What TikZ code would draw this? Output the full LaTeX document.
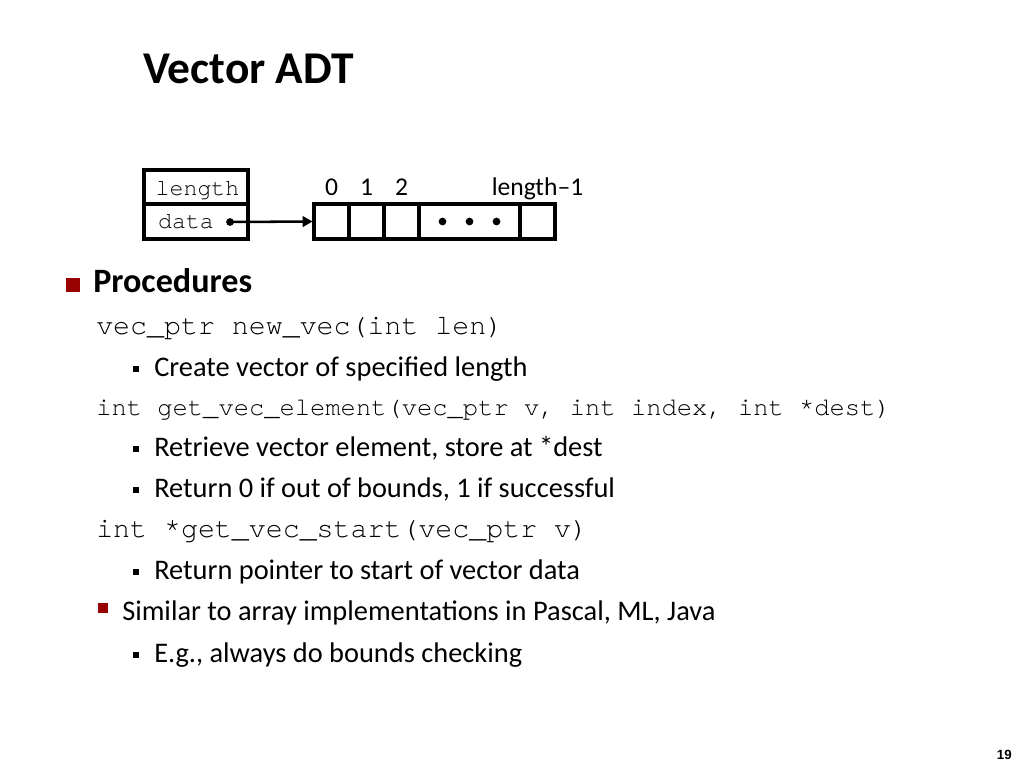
\documentclass[tikz,border=0pt]{standalone}
\usepackage{fontspec}
\setmainfont{Carlito}
\setmonofont{TeX Gyre Cursor}
\newfontfamily\pagenofont{Liberation Sans}
\usetikzlibrary{arrows.meta,positioning}
\definecolor{slidered}{RGB}{153,0,0}
\tikzset{
	body/.style={anchor=base west, inner sep=0pt, font=\fontsize{21.3}{25}\selectfont},
	code/.style={anchor=base west, inner sep=0pt, font=\fontsize{21.2}{25}\selectfont\ttfamily},
	cell/.style={draw, line width=2.3pt, inner sep=0pt, outer sep=0pt, minimum width=26.25pt, minimum height=26.25pt},
	idx/.style={anchor=base, inner sep=0pt, font=\fontsize{19.2}{22}\selectfont},
	field/.style={anchor=base, inner sep=0pt, font=\fontsize{17.4}{20}\selectfont\ttfamily},
	subbullet/.style={fill=black, inner sep=0pt, minimum size=4.6pt},
	redbullet/.style={fill=slidered, inner sep=0pt, minimum size=#1},
	dotmark/.style={circle, fill=black, inner sep=0pt, minimum size=5.8pt}
}

\begin{document}
\begin{tikzpicture}[x=0.75pt, y=-0.75pt]
		%%%%% START %%%%%
		
		\fill[white] (0, 0) rectangle (1024, 768);
		\useasboundingbox (0, 0) rectangle (1024, 768);
		
		\node[anchor=base west, inner sep=0pt, font=\fontsize{34.1}{40}\selectfont\bfseries] (title) at (143, 83) {Vector ADT};
		
		% struct box
		\node[cell, minimum width=78pt, minimum height=25.5pt] (lenbox) at (196, 187) {};
		\node[cell, minimum width=78pt] (databox) at (196, 221.5) {};
		\node[field] (lentext) at (197.5, 195) {length};
		\node[field] (datatext) at (186, 228) {data};
		\node[dotmark] (ptr) at (230, 222) {};
		
		% array
		\node[cell] (c0) at (331.5, 221.5) {};
		\node[cell, right=0pt of c0] (c1) {};
		\node[cell, right=0pt of c1] (c2) {};
		\node[cell, right=0pt of c2, minimum width=75.75pt] (cdots) {};
		\node[cell, right=0pt of cdots] (clast) {};
		\foreach \dx in {-20.25, 0, 20.25}
			\node[dotmark] at ([xshift=\dx pt]cdots.center) {};
		
		\node[idx] (i0) at ([yshift=6.75pt]c0.north) {0};
		\node[idx] (i1) at ([yshift=6.75pt]c1.north) {1};
		\node[idx] (i2) at ([yshift=6.75pt]c2.north) {2};
		\node[idx] (ilast) at ([yshift=6.75pt]clast.north) {length--1};
		
		\draw[line width=1.9pt, shorten >=1.1pt, -{Triangle[length=7.5pt, width=8pt]}] (ptr.center) -- (c0.west);
		
		% bullets
		\node[redbullet=10.5pt] (b0) at (72.5, 285) {};
		\node[body, font=\fontsize{25.6}{30}\selectfont\bfseries] (proc) at (93, 292) {Procedures};
		
		\node[code] (newvec) at (96, 334) {vec\_ptr new\_vec(int len)};
		\node[subbullet] (b1) at (136, 369) {};
		\node[body] (t1) at (154, 376) {Create vector of specified length};
		
		\node[code, font=\fontsize{19.1}{22}\selectfont\ttfamily] (getelem) at (96, 415) {int get\_vec\_element(vec\_ptr v, int index, int *dest)};
		\node[subbullet] (b2) at (136, 449) {};
		\node[body] (t2) at (154, 456) {Retrieve vector element, store at *dest};
		\node[subbullet] (b3) at (136, 490) {};
		\node[body] (t3) at (154, 497) {Return 0 if out of bounds, 1 if successful};
		
		\node[code] (getstart) at (96, 537) {int *get\_vec\_start(vec\_ptr v)};
		\node[subbullet] (b4) at (136, 572) {};
		\node[body] (t4) at (154, 579) {Return pointer to start of vector data};
		
		\node[redbullet=7pt] (b5) at (103, 608) {};
		\node[body] (t5) at (122, 620) {Similar to array implementations in Pascal, ML, Java};
		\node[subbullet] (b6) at (136, 655) {};
		\node[body] (t6) at (154, 662) {E.g., always do bounds checking};
		
		\node[anchor=base east, inner sep=0pt, font=\fontsize{10}{12}\selectfont\pagenofont\bfseries] (pageno) at (1012, 759) {19};
		
		%%%%% END %%%%%
\end{tikzpicture}
\end{document}
